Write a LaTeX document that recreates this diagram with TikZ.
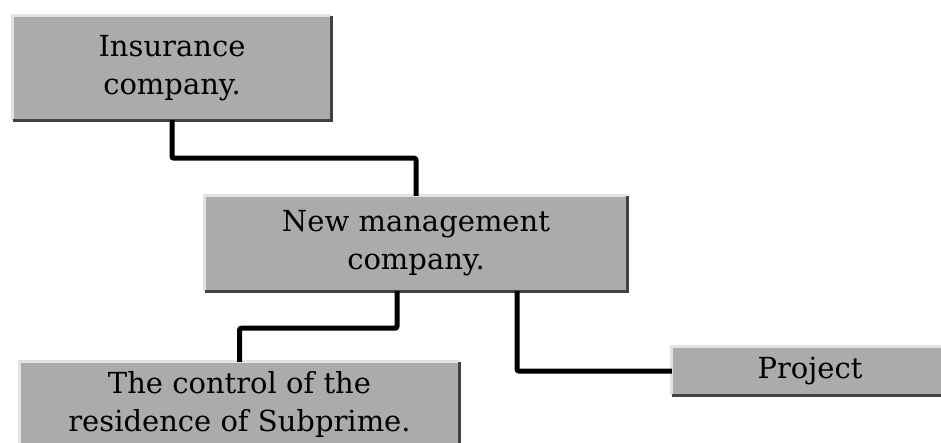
\documentclass[tikz,border=0pt]{standalone}
\usepackage{fontspec}
\setmainfont{DejaVu Serif}
\usepackage{tikz}

\definecolor{boxgray}{RGB}{171,171,171}
\definecolor{edgedark}{RGB}{66,66,66}
\definecolor{edgelight}{RGB}{226,226,226}

\begin{document}
\begin{tikzpicture}[x=1pt,y=1pt,yscale=-1,xscale=1,
  orgbox/.style={fill=boxgray, inner sep=0pt, align=center, font=\fontsize{29}{38}\selectfont},
  link/.style={line width=5pt, rounded corners=2pt}]
\useasboundingbox (0,0) rectangle (941,442);
\clip (0,0) rectangle (941,442);

%Shape: Rectangle [id:ins]
\node [orgbox, minimum width=318pt, minimum height=104pt] (ins) at (172,68) {Insurance\\company.};
%Shape: Rectangle [id:mgmt]
\node [orgbox, minimum width=422pt, minimum height=95pt] (mgmt) at (416,243.5) {New management\\company.};
%Shape: Rectangle [id:ctrl]
\node [orgbox, minimum width=439pt, minimum height=84pt] (ctrl) at (239.5,404) {The control of the\\residence of Subprime.};
%Shape: Rectangle [id:proj]
\node [orgbox, minimum width=276pt, minimum height=48pt] (proj) at (810,371) {Project};

%Box edges: light top and left, dark bottom and right
\foreach \b in {ins,mgmt,ctrl,proj} {
  \draw [edgelight, line width=3pt] (\b.south west) -- (\b.north west) -- (\b.north east);
  \draw [edgedark, line width=3pt] (\b.south west) -- (\b.south east) -- (\b.north east);
}

%Connectors
\draw [link] (ins.south) -- ++(0,38) -| (mgmt.north);
\draw [link] ([xshift=-19pt]mgmt.south) -- ++(0,37) -| (ctrl.north);
\draw [link] ([xshift=101pt]mgmt.south) |- (proj.west);

\end{tikzpicture}
\end{document}
